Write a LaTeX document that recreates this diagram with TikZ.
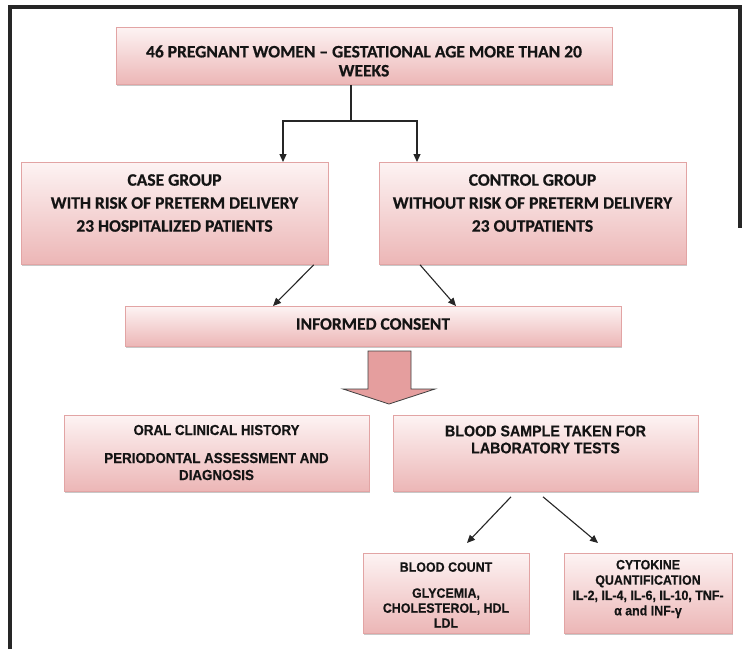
\documentclass[tikz,border=0pt]{standalone}
\usepackage{fontspec}
\setmainfont{Carlito}[BoldFeatures={FakeBold=0.6}]
\newfontfamily\arialn[FakeStretch=0.92,BoldFeatures={FakeBold=0.4}]{Liberation Sans}
\usetikzlibrary{shadows,arrows.meta,calc}
\definecolor{boxtop}{HTML}{FDF3F3}
\definecolor{boxbot}{HTML}{ECB6B6}
\definecolor{boxline}{HTML}{E2A4A4}
\definecolor{arrowfill}{HTML}{E59E9E}
\definecolor{framec}{HTML}{262626}
\begin{document}
\begin{tikzpicture}[x=1pt,y=-1pt,
  pbox/.style={rectangle, draw=boxline, line width=0.8pt, top color=boxtop, bottom color=boxbot,
    drop shadow={shadow xshift=0.8pt, shadow yshift=-1.8pt, opacity=0.3, fill=black!70},
    inner sep=0pt, anchor=north west},
  ctext/.style={font=\bfseries\fontsize{17.5}{19}\selectfont, align=center, inner sep=0pt, text=black!92},
  atext/.style={font=\arialn\bfseries\fontsize{15.5}{17}\selectfont, align=center, inner sep=0pt, text=black!92},
  stext/.style={font=\arialn\bfseries\fontsize{13.5}{15}\selectfont, align=center, inner sep=0pt, text=black!92},
  conn/.style={draw=black!85, line width=1.1pt},
  arr/.style={conn, -{Triangle[length=8pt,width=7pt]}}]
\useasboundingbox (0,0) rectangle (742,649);
\fill[white] (0,0) rectangle (742,649);
\draw[framec, line width=3.4pt] (10,649) -- (10,7) -- (740,7) -- (740,228);

% boxes
\node[pbox, minimum width=496pt, minimum height=57pt] (top) at (116,27) {};
\node[pbox, minimum width=307pt, minimum height=102pt] (case) at (21,162) {};
\node[pbox, minimum width=307pt, minimum height=102pt] (control) at (379,162) {};
\node[pbox, minimum width=496pt, minimum height=40pt] (consent) at (125,306) {};
\node[pbox, minimum width=305pt, minimum height=76pt] (oral) at (64,415) {};
\node[pbox, minimum width=305pt, minimum height=76pt] (blood) at (393,415) {};
\node[pbox, minimum width=166pt, minimum height=80pt] (count) at (363,553) {};
\node[pbox, minimum width=168pt, minimum height=80pt] (cyto) at (564,553) {};

% texts
\node[ctext] (toptxt) at (364,61) {46 PREGNANT WOMEN -- GESTATIONAL AGE MORE THAN 20\\WEEKS};
\node[ctext, font=\bfseries\fontsize{17.5}{23}\selectfont] (casetxt) at (174.5,203) {CASE GROUP\\WITH RISK OF PRETERM DELIVERY\\23 HOSPITALIZED PATIENTS};
\node[ctext, font=\bfseries\fontsize{17.5}{23}\selectfont] (controltxt) at (532.5,203) {CONTROL GROUP\\WITHOUT RISK OF PRETERM DELIVERY\\23 OUTPATIENTS};
\node[ctext] (consenttxt) at (373,324) {INFORMED CONSENT};
\node[atext, font=\arialn\bfseries\fontsize{14.5}{17}\selectfont] (oraltxt) at (216.5,452.5) {ORAL CLINICAL HISTORY\\[11pt]PERIODONTAL ASSESSMENT AND\\DIAGNOSIS};
\node[atext] (bloodtxt) at (545.5,439.5) {BLOOD SAMPLE TAKEN FOR\\LABORATORY TESTS};
\node[stext] (counttxt) at (446,595) {BLOOD COUNT\\[11pt]GLYCEMIA,\\CHOLESTEROL, HDL\\LDL};
\node[stext, font=\arialn\bfseries\fontsize{13.5}{15.3}\selectfont] (cytotxt) at (648,589) {CYTOKINE\\QUANTIFICATION\\IL-2, IL-4, IL-6, IL-10, TNF-\\α and INF-γ};

% connectors
\coordinate (jn) at (351,121);
\coordinate (jl) at (283,121);
\coordinate (jr) at (417,121);
\draw[conn] (top.south -| jn) -- (jn);
\draw[arr] (jn) -| (jl |- case.north);
\draw[arr] (jn) -| (jr |- control.north);
\draw[arr] ([xshift=-15pt]case.south east) -- ([xshift=148pt]consent.north west);
\draw[arr] ([xshift=41pt]control.south west) -- ([xshift=331pt]consent.north west);
\draw[arr] ([xshift=118pt,yshift=-5pt]blood.south west) -- ([xshift=104pt,yshift=10pt]count.north west);
\draw[arr] ([xshift=150pt,yshift=-5pt]blood.south west) -- ([xshift=34pt,yshift=10pt]cyto.north west);

% block arrow
\filldraw[fill=arrowfill, draw=black!75, line width=0.8pt]
  (368,351) -- (411,351) -- (411,389) -- (435,389) -- (389,404) -- (343,389) -- (368,389) -- cycle;
\end{tikzpicture}
\end{document}
